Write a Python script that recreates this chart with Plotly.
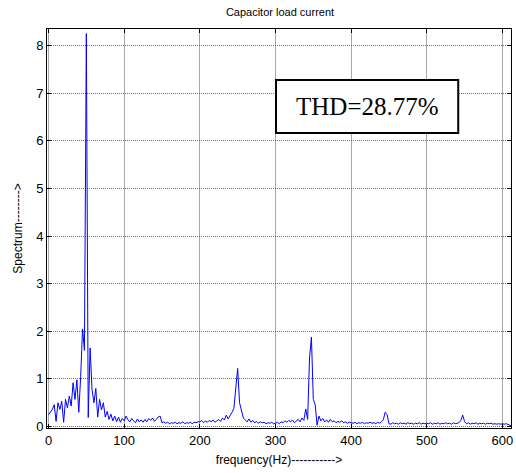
import numpy as np
import plotly.graph_objects as go

# Spectrum of the capacitor load current, 2.5 Hz bins starting at 0 Hz
freq_step_hz = 2.5
spectrum = [
    # 0 - 47.5 Hz
    0.25, 0.30, 0.36, 0.46, 0.11, 0.50, 0.36, 0.53, 0.09, 0.57,
    0.39, 0.64, 0.43, 0.92, 0.57, 0.98, 0.30, 1.05, 2.05, 1.60,
    # 50 - 97.5 Hz
    8.25, 0.19, 1.65, 0.78, 0.50, 0.80, 0.20, 0.57, 0.35, 0.50,
    0.20, 0.32, 0.15, 0.26, 0.12, 0.22, 0.10, 0.20, 0.09, 0.17,
    # 100 - 147.5 Hz
    0.12, 0.22, 0.14, 0.10, 0.17, 0.12, 0.08, 0.16, 0.10, 0.14,
    0.09, 0.15, 0.10, 0.17, 0.13, 0.18, 0.11, 0.15, 0.20, 0.22,
    # 150 - 197.5 Hz
    0.08, 0.10, 0.07, 0.09, 0.06, 0.08, 0.07, 0.09, 0.06, 0.08,
    0.07, 0.10, 0.06, 0.08, 0.07, 0.09, 0.06, 0.09, 0.08, 0.10,
    # 200 - 247.5 Hz
    0.10, 0.13, 0.08, 0.12, 0.09, 0.13, 0.10, 0.14, 0.09, 0.12,
    0.15, 0.11, 0.18, 0.14, 0.24, 0.16, 0.22, 0.30, 0.38, 0.82,
    # 250 - 297.5 Hz
    1.22, 0.50, 0.30, 0.18, 0.14, 0.10, 0.16, 0.09, 0.13, 0.08,
    0.11, 0.07, 0.10, 0.08, 0.09, 0.06, 0.08, 0.07, 0.09, 0.06,
    # 300 - 347.5 Hz
    0.07, 0.09, 0.06, 0.10, 0.08, 0.12, 0.09, 0.13, 0.10, 0.14,
    0.08, 0.12, 0.15, 0.10, 0.18, 0.13, 0.37, 0.15, 1.44, 1.88,
    # 350 - 397.5 Hz
    0.57, 0.46, 0.03, 0.22, 0.12, 0.17, 0.10, 0.14, 0.09, 0.15,
    0.10, 0.12, 0.08, 0.11, 0.09, 0.12, 0.08, 0.10, 0.07, 0.09,
    # 400 - 447.5 Hz
    0.08, 0.07, 0.09, 0.06, 0.08, 0.07, 0.09, 0.06, 0.08, 0.07,
    0.09, 0.07, 0.08, 0.06, 0.09, 0.07, 0.10, 0.14, 0.30, 0.25,
    # 450 - 497.5 Hz
    0.06, 0.05, 0.08, 0.06, 0.07, 0.05, 0.08, 0.06, 0.07, 0.05,
    0.08, 0.06, 0.07, 0.05, 0.07, 0.06, 0.08, 0.05, 0.07, 0.06,
    # 500 - 547.5 Hz
    0.07, 0.06, 0.08, 0.05, 0.07, 0.06, 0.08, 0.05, 0.07, 0.06,
    0.08, 0.06, 0.07, 0.05, 0.08, 0.06, 0.07, 0.08, 0.13, 0.24,
    # 550 - 597.5 Hz
    0.10, 0.06, 0.08, 0.05, 0.07, 0.06, 0.08, 0.05, 0.07, 0.06,
    0.07, 0.05, 0.07, 0.06, 0.07, 0.05, 0.06, 0.05, 0.06, 0.05,
    # 600 - 612.5 Hz
    0.06, 0.05, 0.06, 0.04, 0.03, 0.01,
]
frequency = np.arange(len(spectrum)) * freq_step_hz

x_ticks = [0, 100, 200, 300, 400, 500, 600]
y_ticks = [0, 1, 2, 3, 4, 5, 6, 7, 8]

title_text = "Capacitor load current"
x_title = "frequency(Hz)----------->"
y_title = "Spectrum-------->"
thd_text = "THD=28.77%"

fig = go.Figure()
fig.add_trace(go.Scatter(
    x=frequency, y=spectrum, mode="lines",
    line=dict(color="#0000FF", width=1),
    showlegend=False, hoverinfo="skip",
))

axis_common = dict(
    showline=True, linecolor="black", linewidth=1, mirror="ticks",
    ticks="inside", ticklen=4, tickcolor="black",
    showgrid=True, gridwidth=1,
    zeroline=False,
    tickfont=dict(family="Liberation Sans, Arial", size=13, color="black"),
)

fig.update_layout(
    width=516, height=473,
    margin=dict(l=47, r=3, t=29, b=45),
    paper_bgcolor="white", plot_bgcolor="white",
    title=dict(text=title_text, x=(47 + 513) / 2 / 516, xanchor="center",
               xref="container", yref="container", y=1 - 12 / 473, yanchor="middle",
               font=dict(family="Liberation Sans, Arial", size=11, color="black")),
    xaxis=dict(range=[-2.0, 611.3], tickvals=x_ticks,
               gridcolor="#a8a8a8", griddash="solid",
               title=dict(text=x_title, standoff=9,
                          font=dict(family="Liberation Sans, Arial", size=12, color="black")),
               **axis_common),
    yaxis=dict(range=[-0.03, 8.345], tickvals=y_ticks,
               gridcolor="#6e6e6e", griddash="1px,1px",
               title=dict(text=y_title, standoff=10,
                          font=dict(family="Liberation Sans, Arial", size=12, color="black")),
               **axis_common),
    shapes=[dict(type="rect", xref="paper", yref="paper",
                 x0=(277 - 47) / 466, x1=(460 - 47) / 466,
                 y0=(428 - 133) / 399, y1=(428 - 80) / 399,
                 line=dict(color="black", width=2), fillcolor="white", layer="above")],
    annotations=[dict(text=thd_text, xref="paper", yref="paper",
                      x=(368.5 - 47) / 466, y=(428 - 106.5) / 399,
                      xanchor="center", yanchor="middle", showarrow=False,
                      font=dict(family="Liberation Serif, Times New Roman", size=25, color="black"))],
)

fig.write_html("out.html")
